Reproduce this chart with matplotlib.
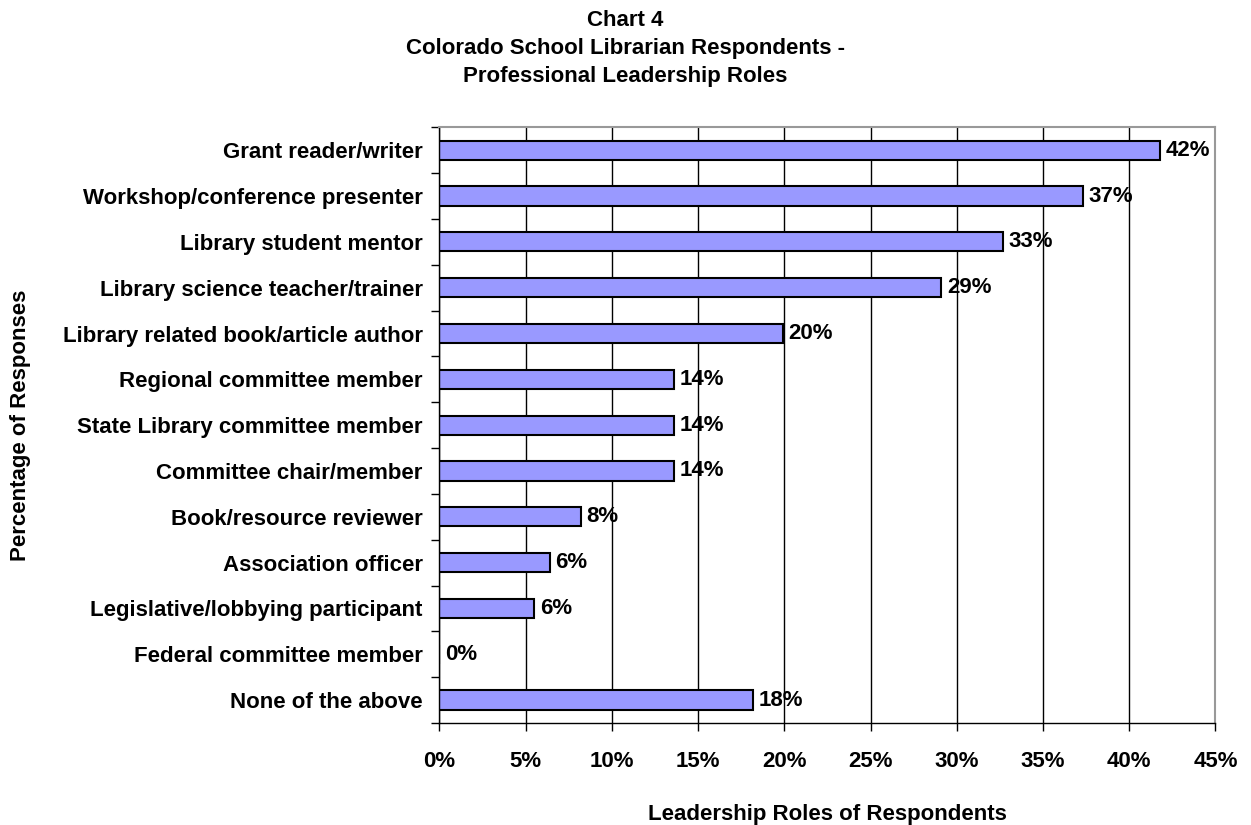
import numpy as np
import matplotlib.pyplot as plt
from matplotlib.ticker import FixedLocator, PercentFormatter

plt.rcParams["font.family"] = ["Liberation Sans", "DejaVu Sans"]
plt.rcParams["font.weight"] = "bold"

roles = [
    "Grant reader/writer",
    "Workshop/conference presenter",
    "Library student mentor",
    "Library science teacher/trainer",
    "Library related book/article author",
    "Regional committee member",
    "State Library committee member",
    "Committee chair/member",
    "Book/resource reviewer",
    "Association officer",
    "Legislative/lobbying participant",
    "Federal committee member",
    "None of the above",
]
percents = [41.8, 37.3, 32.7, 29.1, 19.9, 13.6, 13.6, 13.6, 8.2, 6.4, 5.5, 0.0, 18.2]

fs = 16
fig = plt.figure(figsize=(12.51, 8.25), dpi=100)
ax = fig.add_axes([0.3513, 0.1236, 0.6203, 0.7221])

y = np.arange(len(roles))
ax.set_axisbelow(True)
ax.xaxis.grid(True, color="black", linewidth=1)
ax.barh(y, percents, height=0.42, color="#9999ff", edgecolor="black", linewidth=1.5)

for yi, v in zip(y, percents):
    ax.annotate(f"{v:.0f}%", (v, yi), xytext=(4, 0), textcoords="offset points",
                va="center", ha="left", fontsize=fs, fontweight="bold")

ax.set_xlim(0, 45)
ax.set_ylim(len(roles) - 0.5, -0.5)
ax.set_xticks(np.arange(0, 46, 5))
ax.xaxis.set_major_formatter(PercentFormatter(decimals=0))
ax.set_yticks(y)
ax.set_yticklabels(roles)
ax.yaxis.set_minor_locator(FixedLocator(np.arange(-0.5, len(roles), 1)))
ax.tick_params(axis="y", which="major", length=0, pad=12, labelsize=fs)
ax.tick_params(axis="y", which="minor", length=6, width=1)
ax.tick_params(axis="x", length=6, width=1, pad=14, labelsize=fs)

for side in ("top", "right"):
    ax.spines[side].set_color("#999999")
    ax.spines[side].set_linewidth(1.5)
for side in ("left", "bottom"):
    ax.spines[side].set_color("black")
    ax.spines[side].set_linewidth(1)

ax.set_xlabel("Leadership Roles of Respondents", fontsize=fs, fontweight="bold", labelpad=23)
fig.text(0.016, 0.485, "Percentage of Responses", rotation=90, fontsize=fs,
         fontweight="bold", ha="center", va="center")
fig.text(0.5, 0.988, "Chart 4\nColorado School Librarian Respondents -\nProfessional Leadership Roles",
         ha="center", va="top", fontsize=fs, fontweight="bold", linespacing=1.45)

fig.savefig("out.png", dpi=100)
